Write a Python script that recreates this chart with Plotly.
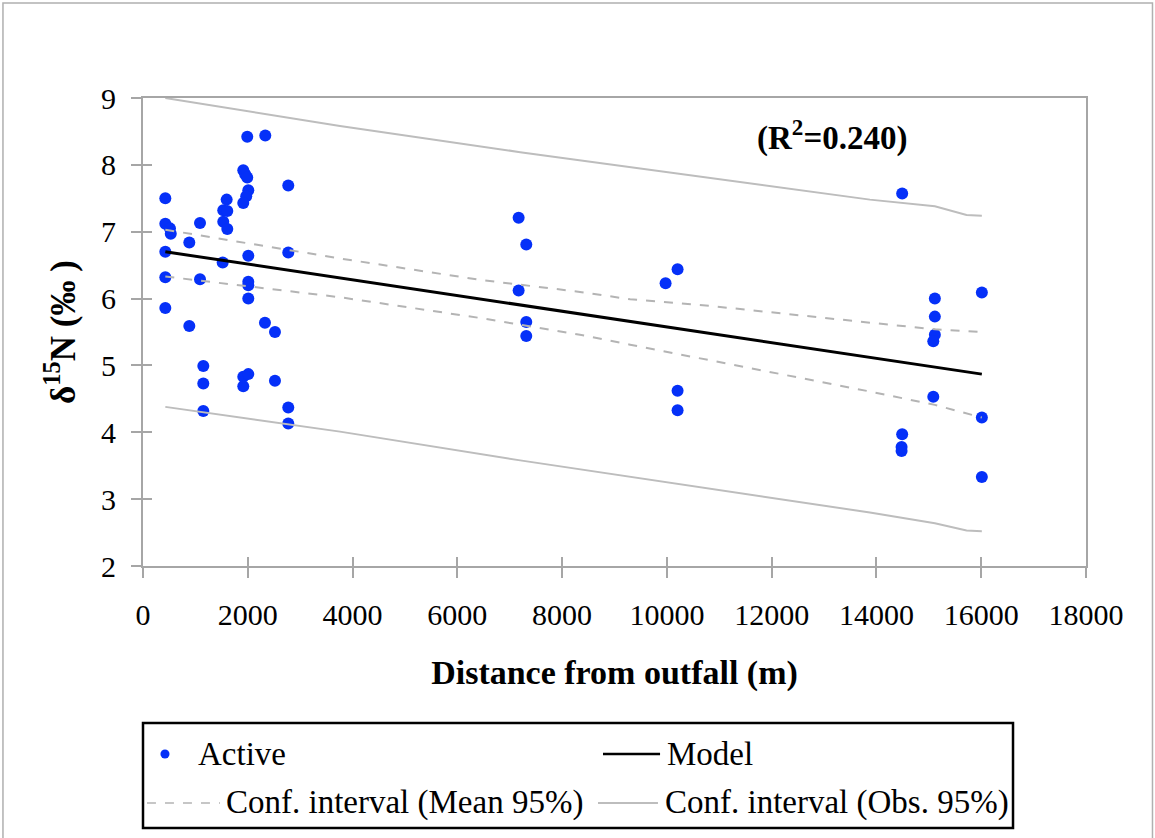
import plotly.graph_objects as go

# Sampled stations: distance from the outfall (m) and d15N (per mil)
distance_m = [426, 426, 515, 530, 426, 426, 426, 884, 884, 1088, 1088,
              1151, 1151, 1151, 1532, 1609, 1597, 1532, 1609, 1521,
              1990, 2334, 1914, 1950, 1990, 2010, 1970, 1914, 2773,
              2010, 2773, 2010, 2010, 2010, 2328, 2519, 1914, 2010,
              1914, 2519, 2773, 2773,
              7170, 7316, 7170, 7316, 7316,
              10204, 9975, 10204, 10204,
              14491, 15115, 16012, 15115, 15115, 15085, 15085, 16012,
              14491, 14480, 14480, 16012]
d15n = [7.50, 7.12, 7.05, 6.97, 6.70, 6.32, 5.86, 6.84, 5.59, 7.13, 6.29,
        4.99, 4.73, 4.32, 7.32, 7.31, 7.48, 7.15, 7.04, 6.54,
        8.42, 8.44, 7.92, 7.86, 7.81, 7.62, 7.53, 7.43, 7.69,
        6.64, 6.69, 6.25, 6.20, 6.00, 5.64, 5.50, 4.83, 4.87,
        4.69, 4.77, 4.37, 4.13,
        7.21, 6.81, 6.12, 5.65, 5.44,
        6.44, 6.23, 4.62, 4.33,
        7.57, 6.00, 6.09, 5.73, 5.46, 5.36, 4.53, 4.22,
        3.97, 3.78, 3.72, 3.33]

# Fitted linear model
model_x = [426, 16012]
model_y = [6.70, 4.87]

# Confidence band of the mean (95%)
mean_ci_x = [426, 3760, 6431, 8340, 9298, 10822, 13875, 15115, 16012]
mean_ci_upper = [7.03, 6.60, 6.28, 6.10, 5.99, 5.89, 5.64, 5.54, 5.50]
mean_ci_lower = [6.33, 6.02, 5.71, 5.46, 5.31, 5.08, 4.61, 4.41, 4.22]

# Prediction band for observations (95%)
obs_ci_x = [426, 3760, 7200, 10000, 13875, 15115, 15720, 16012]
obs_ci_upper = [9.00, 8.58, 8.19, 7.89, 7.48, 7.38, 7.25, 7.24]
obs_ci_lower = [4.38, 4.01, 3.58, 3.25, 2.80, 2.64, 2.53, 2.52]

r_squared = 0.240

legend_labels = ["Active", "Model", "Conf. interval (Mean 95%)",
                 "Conf. interval (Obs. 95%)"]

X_RANGE, X_STEP = [0, 18000], 2000
Y_RANGE, Y_STEP = [2, 9], 1

FONT = "Liberation Serif"
BLUE = "#0530f8"
MEAN_GREY = "#b4b4b4"
OBS_GREY = "#bdbdbd"
AXIS_GREY = "#a6a6a6"

fig = go.Figure()

# Empty trace bound to the overlay axes so that their inner ticks are drawn
fig.add_trace(go.Scatter(x=[], y=[], xaxis="x2", yaxis="y2",
                         mode="markers", showlegend=False, hoverinfo="skip"))

fig.add_trace(go.Scatter(
    x=distance_m, y=d15n, mode="markers", name=legend_labels[0],
    marker=dict(color=BLUE, size=12, line=dict(width=0)),
))
fig.add_trace(go.Scatter(
    x=model_x, y=model_y, mode="lines", name=legend_labels[1],
    line=dict(color="black", width=3),
))
for ys in (mean_ci_upper, mean_ci_lower):
    fig.add_trace(go.Scatter(
        x=mean_ci_x, y=ys, mode="lines", name=legend_labels[2],
        line=dict(color=MEAN_GREY, width=2, dash="dash"),
    ))
for ys in (obs_ci_upper, obs_ci_lower):
    fig.add_trace(go.Scatter(
        x=obs_ci_x, y=ys, mode="lines", name=legend_labels[3],
        line=dict(color=OBS_GREY, width=2),
    ))

axis_common = dict(
    showgrid=False, zeroline=False, showline=True, mirror=True,
    linecolor=AXIS_GREY, linewidth=2, ticks="outside", ticklen=10,
    tickwidth=1.5, tickcolor=AXIS_GREY,
    tickfont=dict(family=FONT, size=30, color="black"),
)

fig.update_xaxes(
    range=X_RANGE, dtick=X_STEP, tickformat="d", ticklabelstandoff=11,
    **axis_common,
    title=dict(text="<b>Distance from outfall (m)</b>",
               font=dict(family=FONT, size=34, color="black"), standoff=30),
    selector=dict(anchor="y"), overwrite=False,
)
fig.update_layout(
    xaxis=dict(range=X_RANGE, dtick=X_STEP, tickformat="d",
               ticklabelstandoff=11, **axis_common,
               title=dict(text="<b>Distance from outfall (m)</b>",
                          font=dict(family=FONT, size=34, color="black"),
                          standoff=30)),
    yaxis=dict(range=Y_RANGE, dtick=Y_STEP, ticklabelstandoff=9,
               **axis_common,
               title=dict(text="<b>δ<sup>15</sup>N (‰ )</b>",
                          font=dict(family=FONT, size=35, color="black"),
                          standoff=15)),
)

# Overlay axes carrying the inner half of the crossing tick marks
inner_ticks = dict(showgrid=False, zeroline=False, showline=False,
                   showticklabels=False, ticks="inside", ticklen=9,
                   tickwidth=1.5, tickcolor=AXIS_GREY)
fig.update_layout(
    xaxis2=dict(overlaying="x", anchor="y", side="bottom", range=X_RANGE,
                dtick=X_STEP, **inner_ticks),
    yaxis2=dict(overlaying="y", anchor="x", side="left", range=Y_RANGE,
                dtick=Y_STEP, **inner_ticks),
)

# Goodness-of-fit label
fig.add_annotation(
    x=0.649, y=0.92, xref="paper", yref="paper",
    text="<b>(R<sup>2</sup>=%.3f)</b>" % r_squared, showarrow=False,
    xanchor="left", yanchor="middle",
    font=dict(family=FONT, size=33, color="black"),
)

# Thin grey frame round the whole chart area
fig.add_shape(
    type="rect", xref="paper", yref="paper",
    x0=-0.1485, x1=1.0705, y0=-0.62, y1=1.203,
    line=dict(color="#b0b0b0", width=1.5), fillcolor="rgba(0,0,0,0)",
)

# Legend panel below the axes: framed box, two rows of two entries
ROW1, ROW2 = -0.4017, -0.5064
fig.add_shape(type="rect", xref="paper", yref="paper",
              x0=0.0, x1=0.9226, y0=-0.5598, y1=-0.3355,
              line=dict(color="black", width=2.5), fillcolor="white")
fig.add_shape(type="circle", xref="paper", yref="paper",
              x0=0.0233 - 0.0048, x1=0.0233 + 0.0048,
              y0=ROW1 - 0.0096, y1=ROW1 + 0.0096,
              line=dict(width=0), fillcolor=BLUE)
fig.add_shape(type="line", xref="paper", yref="paper",
              x0=0.4878, x1=0.5483, y0=ROW1, y1=ROW1,
              line=dict(color="black", width=2.5))
fig.add_shape(type="line", xref="paper", yref="paper",
              x0=0.0042, x1=0.0817, y0=ROW2, y1=ROW2,
              line=dict(color=MEAN_GREY, width=1.5, dash="dash"))
fig.add_shape(type="line", xref="paper", yref="paper",
              x0=0.4825, x1=0.5461, y0=ROW2, y1=ROW2,
              line=dict(color=OBS_GREY, width=2))
for text, lx, ly in ((legend_labels[0], 0.0562, ROW1),
                     (legend_labels[1], 0.5536, ROW1),
                     (legend_labels[2], 0.0859, ROW2),
                     (legend_labels[3], 0.5514, ROW2)):
    fig.add_annotation(x=lx, y=ly, xref="paper", yref="paper", text=text,
                       showarrow=False, xanchor="left", yanchor="middle",
                       font=dict(family=FONT, size=33, color="black"))

fig.update_layout(
    width=1155, height=838,
    margin=dict(l=143, r=69, t=98, b=272),
    paper_bgcolor="white", plot_bgcolor="white",
    showlegend=False,
)

fig.write_html("out.html")
